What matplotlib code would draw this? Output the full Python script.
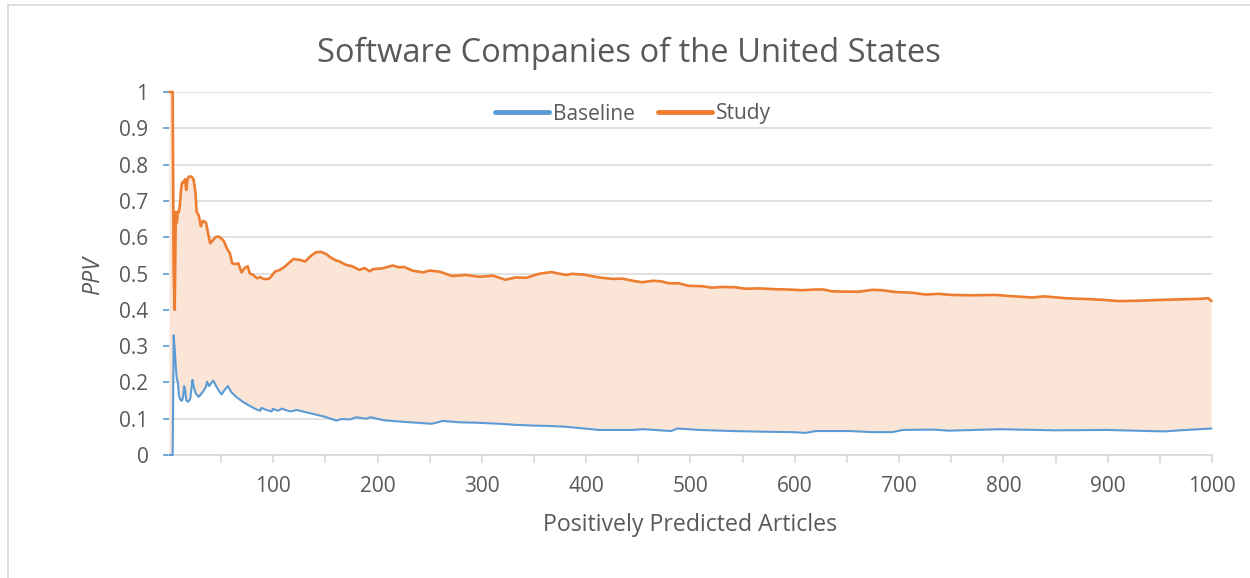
import numpy as np
import matplotlib
matplotlib.use("Agg")
import matplotlib.pyplot as plt
from matplotlib.lines import Line2D

plt.rcParams['font.family'] = ['Open Sans', 'DejaVu Sans']

# ---- data ----
study_x = [1, 2, 3, 4, 5, 6, 7, 8, 9, 10, 11, 12, 13, 14, 15, 16, 17, 18, 19, 20, 22, 24, 26, 27, 29,
           31, 33, 36, 38, 40, 42, 45, 48, 50, 53, 56, 59, 61, 64, 67, 70, 73, 76, 78, 81, 85, 88, 91,
           96, 98, 102, 107, 112, 117, 120, 124, 127, 131, 136, 141, 146, 151, 155, 160, 164, 170, 176,
           183, 188, 193, 196, 205, 215, 221, 226, 234, 244, 250, 260, 272, 285, 298, 311, 323, 333,
           343, 355, 367, 381, 387, 398, 413, 426, 435, 445, 454, 465, 473, 480, 489, 499, 512, 521,
           531, 544, 553, 566, 579, 592, 608, 620, 628, 636, 649, 662, 675, 684, 697, 713, 726, 738,
           751, 770, 793, 806, 828, 840, 860, 885, 898, 911, 930, 949, 972, 988, 997, 1000]
study_y = [1.0, 1.0, 1.0, 1.0, 0.5, 0.4, 0.67, 0.64, 0.67, 0.67, 0.69, 0.73, 0.75, 0.753, 0.75, 0.76,
           0.73, 0.755, 0.765, 0.767, 0.767, 0.76, 0.72, 0.67, 0.66, 0.63, 0.645, 0.64, 0.61, 0.583,
           0.59, 0.60, 0.602, 0.598, 0.59, 0.569, 0.555, 0.528, 0.526, 0.528, 0.503, 0.515, 0.52, 0.50,
           0.496, 0.487, 0.49, 0.485, 0.485, 0.49, 0.505, 0.51, 0.52, 0.533, 0.54, 0.538, 0.537, 0.533,
           0.547, 0.558, 0.56, 0.554, 0.545, 0.537, 0.533, 0.524, 0.52, 0.51, 0.515, 0.506, 0.512,
           0.514, 0.522, 0.517, 0.518, 0.508, 0.503, 0.508, 0.505, 0.493, 0.496, 0.491, 0.494, 0.483,
           0.489, 0.488, 0.499, 0.504, 0.496, 0.499, 0.497, 0.489, 0.485, 0.486, 0.48, 0.476, 0.48,
           0.478, 0.473, 0.473, 0.466, 0.465, 0.461, 0.463, 0.462, 0.458, 0.459, 0.457, 0.456, 0.454,
           0.456, 0.456, 0.451, 0.45, 0.45, 0.455, 0.454, 0.449, 0.447, 0.442, 0.444, 0.441, 0.44,
           0.441, 0.438, 0.434, 0.437, 0.432, 0.429, 0.427, 0.424, 0.425, 0.427, 0.429, 0.43, 0.432,
           0.424]

baseline_x = [1, 2, 3, 4, 5, 6, 7, 8, 9, 10, 11, 12, 13, 14, 15, 16, 17, 18, 19, 21, 23, 24, 26, 29,
              33, 36, 37, 39, 42, 43, 46, 49, 51, 54, 57, 60, 65, 71, 78, 84, 88, 89, 94, 99, 100,
              105, 109, 112, 117, 123, 136, 149, 161, 166, 174, 180, 189, 194, 206, 222, 238, 252,
              257, 263, 279, 295, 317, 333, 350, 365, 380, 395, 413, 445, 455, 482, 488, 509, 541,
              573, 598, 611, 621, 653, 675, 694, 704, 733, 748, 797, 850, 900, 940, 955, 970, 1000]
baseline_y = [0, 0, 0, 0, 0.33, 0.29, 0.243, 0.21, 0.2, 0.165, 0.155, 0.15, 0.15, 0.16, 0.19, 0.18,
              0.15, 0.148, 0.147, 0.156, 0.207, 0.19, 0.17, 0.16, 0.174, 0.188, 0.202, 0.19, 0.202,
              0.205, 0.188, 0.174, 0.167, 0.18, 0.19, 0.174, 0.16, 0.147, 0.135, 0.126, 0.122, 0.13,
              0.124, 0.12, 0.127, 0.122, 0.128, 0.124, 0.12, 0.124, 0.115, 0.106, 0.095, 0.099, 0.098,
              0.104, 0.1, 0.104, 0.096, 0.092, 0.089, 0.086, 0.089, 0.094, 0.09, 0.089, 0.086, 0.083,
              0.081, 0.08, 0.078, 0.074, 0.069, 0.069, 0.071, 0.066, 0.073, 0.069, 0.066, 0.064, 0.063,
              0.061, 0.066, 0.066, 0.063, 0.063, 0.069, 0.07, 0.067, 0.071, 0.068, 0.069, 0.066, 0.065,
              0.068, 0.073]

y_ticks = [0, 0.1, 0.2, 0.3, 0.4, 0.5, 0.6, 0.7, 0.8, 0.9, 1]
y_tick_labels = ['0', '0.1', '0.2', '0.3', '0.4', '0.5', '0.6', '0.7', '0.8', '0.9', '1']
x_tick_positions = [50, 100, 150, 200, 250, 300, 350, 400, 450, 500,
                    550, 600, 650, 700, 750, 800, 850, 900, 950, 1000]
x_tick_labels = ['', '100', '', '200', '', '300', '', '400', '', '500',
                 '', '600', '', '700', '', '800', '', '900', '', '1000']

title = 'Software Companies of the United States'
x_title = 'Positively Predicted Articles'
y_title = 'PPV'
series_names = ['Baseline', 'Study']

BLUE = '#5B9BD5'
ORANGE = '#ED7D31'
FILL = '#FBE5D6'
GRID = '#D9D9D9'
TEXT = '#595959'

W, H = 1250, 578
fig = plt.figure(figsize=(W / 100, H / 100), dpi=100)
ax = fig.add_axes([169 / W, 1 - 455 / H, (1212 - 169) / W, (455 - 92) / H])

# fill between the two series (polygon from the study line forward and baseline back)
poly_x = np.concatenate([study_x, baseline_x[::-1]])
poly_y = np.concatenate([study_y, baseline_y[::-1]])
ax.fill(poly_x, poly_y, color=FILL, lw=0, zorder=1)

ax.plot(baseline_x, baseline_y, color=BLUE, lw=1.5, zorder=3, clip_on=False,
        solid_joinstyle='round', solid_capstyle='round')
ax.plot(study_x, study_y, color=ORANGE, lw=1.9, zorder=4, clip_on=False,
        solid_joinstyle='round', solid_capstyle='round')

ax.set_xlim(0.5, 1000.5)
ax.set_ylim(0, 1)

for s in ['top', 'right', 'left']:
    ax.spines[s].set_visible(False)
ax.spines['bottom'].set_color(GRID)
ax.spines['bottom'].set_linewidth(1.2)
ax.spines['bottom'].set_zorder(2)

ax.set_yticks(y_ticks)
ax.set_yticklabels(y_tick_labels)
ax.yaxis.grid(True, color=GRID, lw=1.1, zorder=0)
ax.set_axisbelow(True)
ax.tick_params(axis='y', colors=BLUE, length=4.3, width=1.2, pad=10.5,
               labelcolor=TEXT, labelsize=15)

ax.set_xticks([p + 0.5 for p in x_tick_positions])
ax.set_xticklabels(x_tick_labels)
ax.tick_params(axis='x', colors=GRID, length=6, width=1.2, pad=9,
               labelcolor=TEXT, labelsize=15, direction='out')

fig.text(629 / W, 1 - 61.7 / H, title, ha='center', va='baseline', fontsize=23.5, color=TEXT)
fig.text(690 / W, 1 - 531 / H, x_title, ha='center', va='baseline', fontsize=16.7, color=TEXT)
fig.text(93 / W, 1 - 275 / H, y_title, ha='center', va='center', fontsize=16.7, color=TEXT,
         rotation=90, style='italic')

handles = [Line2D([], [], color=BLUE, lw=3.5, solid_capstyle='round'),
           Line2D([], [], color=ORANGE, lw=3.5, solid_capstyle='round')]
leg = fig.legend(handles, series_names, loc='center', ncol=2, frameon=False,
                 bbox_to_anchor=(633 / W, 1 - 114 / H), bbox_transform=fig.transFigure,
                 fontsize=15, handlelength=2.6, handletextpad=0.2, columnspacing=1.1,
                 borderpad=0)
for t in leg.get_texts():
    t.set_color(TEXT)

# chart outer border
fig.add_artist(Line2D([7.5 / W, 7.5 / W], [0, 1 - 5 / H], transform=fig.transFigure,
                      color=GRID, lw=1.2))
fig.add_artist(Line2D([7.5 / W, 1], [1 - 5 / H, 1 - 5 / H], transform=fig.transFigure,
                      color=GRID, lw=1.2))

fig.savefig('out.png', dpi=100)
